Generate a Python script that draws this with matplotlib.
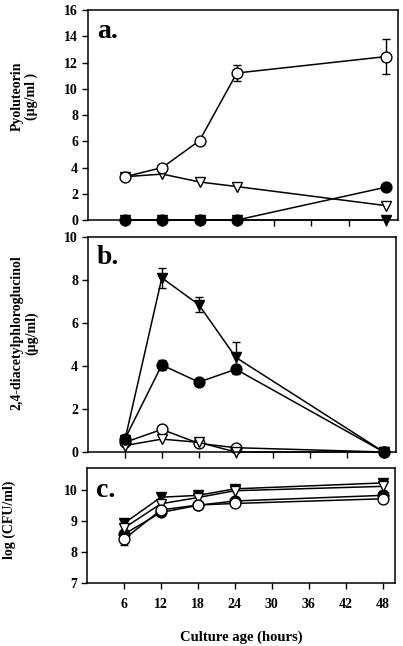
import numpy as np
import matplotlib
matplotlib.use("Agg")
import matplotlib.pyplot as plt

hours = [6, 12, 18, 24, 48]
x_ticks = [6, 12, 18, 24, 30, 36, 42, 48]

# Panel a: Pyoluteorin (ug/ml)
a_filled_circle = [0.0, 0.0, 0.0, 0.0, 2.5]
a_open_circle = [3.3, 4.0, 6.05, 11.2, 12.45]
a_open_circle_err = [np.nan, np.nan, 0.2, 0.6, 1.33]
a_filled_tri = [0.0, 0.0, 0.0, 0.0, 0.0]
a_open_tri = [3.3, 3.5, 2.9, 2.55, 1.1]

# Panel b: 2,4-diacetylphloroglucinol (ug/ml)
b_filled_circle = [0.6, 4.05, 3.25, 3.85, 0.0]
b_filled_circle_err = [np.nan, 0.25, np.nan, 0.2, np.nan]
b_open_circle = [0.45, 1.05, 0.4, 0.2, 0.0]
b_filled_tri = [0.55, 8.1, 6.85, 4.4, 0.0]
b_filled_tri_err = [np.nan, 0.45, 0.35, 0.7, np.nan]
b_open_tri = [0.3, 0.6, 0.45, 0.0, 0.0]

# Panel c: log (CFU/ml)
c_filled_circle = [8.57, 9.27, 9.5, 9.64, 9.82]
c_open_circle = [8.41, 9.35, 9.51, 9.56, 9.71]
c_open_circle_err = [0.18, np.nan, np.nan, np.nan, np.nan]
c_filled_tri = [8.92, 9.76, 9.82, 10.03, 10.22]
c_open_tri = [8.77, 9.55, 9.75, 9.97, 10.11]

FONT = "Liberation Serif"
plt.rcParams['font.family'] = FONT
plt.rcParams['font.weight'] = 'bold'

fig = plt.figure(figsize=(4.03, 6.46), dpi=100)

def make_ax(rect):
    ax = fig.add_axes(rect)
    for s in ax.spines.values():
        s.set_linewidth(1.1)
    ax.tick_params(direction='out', length=4, width=1.0, labelsize=10, pad=3)
    ax.set_xlim(0, 50)
    ax.set_xticks(x_ticks)
    return ax

def series(ax, y, marker, filled, err=None):
    kw = dict(color='black', lw=1.1, marker=marker, markersize=7.8,
              markerfacecolor='black' if filled else 'white',
              markeredgecolor='black', markeredgewidth=1.0, clip_on=False)
    if err is not None:
        ax.errorbar(hours, y, yerr=err, capsize=3, elinewidth=1.0, capthick=1.0,
                    ecolor='black', **kw)
    else:
        ax.plot(hours, y, **kw)

ax_a = make_ax([0.218, 0.6594, 0.77, 0.3251])
series(ax_a, a_filled_circle, 'o', True)
series(ax_a, a_open_circle, 'o', False, a_open_circle_err)
series(ax_a, a_filled_tri, 'v', True)
series(ax_a, a_open_tri, 'v', False)
ax_a.set_ylim(0, 16)
ax_a.set_yticks(range(0, 17, 2))
ax_a.set_xticklabels([])
ax_a.set_ylabel("Pyoluteorin\n(µg/ml )", fontsize=10, fontweight='bold', linespacing=1.05)
ax_a.yaxis.set_label_coords(-0.16, 0.59)
ax_a.text(0.03, 0.865, "a.", transform=ax_a.transAxes, fontsize=20, fontweight='bold',
          va='baseline', ha='left')

ax_b = make_ax([0.218, 0.3003, 0.765, 0.3328])
series(ax_b, b_filled_circle, 'o', True, b_filled_circle_err)
series(ax_b, b_open_circle, 'o', False)
series(ax_b, b_filled_tri, 'v', True, b_filled_tri_err)
series(ax_b, b_open_tri, 'v', False)
ax_b.set_ylim(0, 10)
ax_b.set_yticks(range(0, 11, 2))
ax_b.set_xticklabels([])
ax_b.set_ylabel("2,4-diacetylphloroglucinol\n(µg/ml)", fontsize=10, fontweight='bold', linespacing=1.15)
ax_b.yaxis.set_label_coords(-0.162, 0.553)
ax_b.text(0.03, 0.875, "b.", transform=ax_b.transAxes, fontsize=20, fontweight='bold',
          va='baseline', ha='left')

ax_c = make_ax([0.216, 0.0975, 0.764, 0.178])
series(ax_c, c_filled_circle, 'o', True)
series(ax_c, c_open_circle, 'o', False, c_open_circle_err)
series(ax_c, c_filled_tri, 'v', True)
series(ax_c, c_open_tri, 'v', False)
ax_c.set_ylim(7, 10.7)
ax_c.set_yticks([7, 8, 9, 10])
ax_c.set_xticklabels([str(t) for t in x_ticks])
ax_c.tick_params(axis='x', pad=7)
ax_c.set_ylabel("log (CFU/ml)", fontsize=10, fontweight='bold')
ax_c.yaxis.set_label_coords(-0.232, 0.548)
ax_c.set_xlabel("Culture age (hours)", fontsize=10.5, fontweight='bold', labelpad=14)
ax_c.text(0.03, 0.75, "c.", transform=ax_c.transAxes, fontsize=20, fontweight='bold',
          va='baseline', ha='left')

for ax in (ax_a, ax_b, ax_c):
    for lab in ax.get_yticklabels() + ax.get_xticklabels():
        lab.set_fontweight('bold')

fig.savefig("out.png", dpi=100)
